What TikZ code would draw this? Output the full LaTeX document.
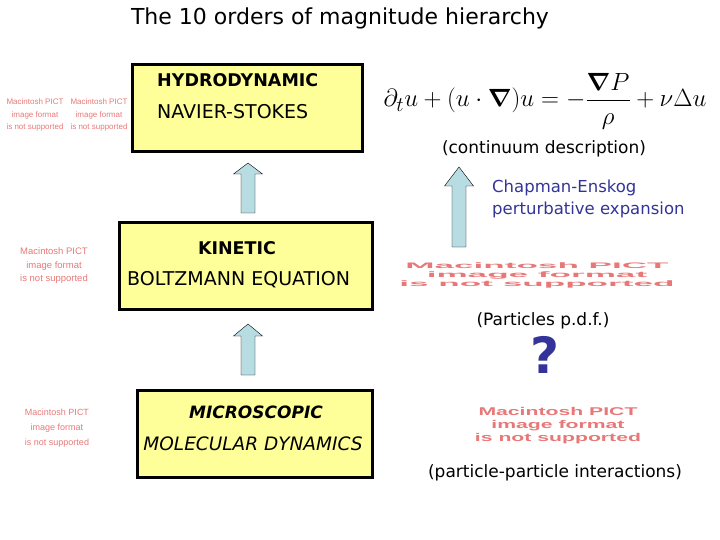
\documentclass[tikz,border=0pt]{standalone}
\usepackage{amsmath,amssymb,bm}
\usepackage{graphicx}
\usepackage{fontspec}
\newfontfamily\comic{DejaVu Sans}
\newfontfamily\pictfont{Liberation Sans}
\usetikzlibrary{calc}
\definecolor{boxfill}{RGB}{255,255,153}
\definecolor{pale}{RGB}{183,221,227}
\definecolor{pictred}{RGB}{232,120,120}
\definecolor{navy}{RGB}{51,51,153}
\newcommand{\pictlines}{\bfseries\renewcommand{\arraystretch}{0.72}%
  \begin{tabular}{@{}c@{}}Macintosh PICT\\image format\\is not supported\end{tabular}}
\tikzset{
  layer/.style={draw=black,line width=3pt,fill=boxfill},
  head/.style={font=\comic\bfseries\fontsize{17.5}{20}\selectfont,inner sep=0pt},
  sub/.style={font=\comic\fontsize{19}{22}\selectfont,inner sep=0pt},
  remark/.style={font=\comic\fontsize{17}{20}\selectfont,inner sep=0pt},
  note/.style={font=\comic\fontsize{16.5}{22}\selectfont,align=left,inner sep=0pt},
  pict/.style={text=pictred,font=\pictfont\fontsize{8}{12.5}\selectfont,
    align=center,inner sep=0pt},
  blockarr/.style={draw=black,thin,fill=pale,to path={
    let \p1=(\tikztostart), \p2=(\tikztotarget) in
    (\x1-7pt,\y1) -- (\x1+7pt,\y1) -- (\x1+7pt,\y2-#1) -- (\x1+14.5pt,\y2-#1)
    -- (\x2,\y2) -- (\x1-14.5pt,\y2-#1) -- (\x1-7pt,\y2-#1) -- cycle}},
  blockarr/.default=11pt,
}

\begin{document}
\begin{tikzpicture}[x=1pt,y=-1pt]
  \useasboundingbox (0,0) rectangle (720,540);
  \node[font=\comic\fontsize{22}{26}\selectfont] (title) at (340,18)
    {The 10 orders of magnitude hierarchy};
  % hydrodynamic
  \node[layer,minimum width=230,minimum height=87] (hydro) at (247,108.5) {};
  \node[head,anchor=west] (hydroname) at (157,80) {HYDRODYNAMIC};
  \node[sub,anchor=west] (hydrosub) at (157,112) {NAVIER-STOKES};
  \node[font=\fontsize{29}{34}\selectfont] (ns) at (545,101)
    {$\displaystyle \partial_t u+(u\cdot\bm{\nabla})u=-\frac{\bm{\nabla}P}{\rho}+\nu\Delta u$};
  \node[remark] (continuum) at (544,149) {(continuum description)};
  \node[pict] (pict1) at (35,115) {Macintosh PICT\\image format\\is not supported};
  \node[pict] (pict2) at (99,115) {Macintosh PICT\\image format\\is not supported};
  % kinetic
  \node[layer,minimum width=253,minimum height=86] (kinetic) at (245.5,266) {};
  \node[head] (kinname) at (237,248) {KINETIC};
  \node[sub,anchor=west] (kinsub) at (127,280) {BOLTZMANN EQUATION};
  \node[pict,font=\pictfont\fontsize{9.5}{13.5}\selectfont] (pict3) at (54,266)
    {Macintosh PICT\\image format\\is not supported};
  \node[pict] (pict4) at (537,276) {\resizebox*{275pt}{27pt}{\pictlines}};
  \node[note,anchor=west] (chapman) at (492,199)
    {\textcolor{navy}{Chapman-Enskog}\\\textcolor{navy}{perturbative expansion}};
  \node[remark] (pdf) at (543,321) {(Particles p.d.f.)};
  \node[text=navy,font=\comic\bfseries\fontsize{50}{52}\selectfont] (quest) at (545,355) {?};
  % microscopic
  \node[layer,minimum width=235,minimum height=87] (micro) at (254.5,433.5) {};
  \node[head,font=\comic\bfseries\itshape\fontsize{17}{20}\selectfont] (micname) at (256,412) {MICROSCOPIC};
  \node[sub,font=\comic\itshape\fontsize{18.5}{22}\selectfont] (micsub) at (253,444) {MOLECULAR DYNAMICS};
  \node[pict,font=\pictfont\fontsize{9}{15}\selectfont] (pict5) at (57,428)
    {Macintosh PICT\\image format\\is not supported};
  \node[pict] (pict6) at (558,426) {\resizebox*{166pt}{38pt}{\pictlines}};
  \node[remark] (pp) at (555,473) {(particle-particle interactions)};
  % block arrows
  \coordinate (b1) at (248,213); \coordinate (t1) at (248,163);
  \coordinate (b2) at (459,247); \coordinate (t2) at (459,167);
  \coordinate (b3) at (248,375); \coordinate (t3) at (248,324);
  \draw[blockarr] (b1) to (t1);
  \draw[blockarr=19pt] (b2) to (t2);
  \draw[blockarr=12pt] (b3) to (t3);
\end{tikzpicture}
\end{document}
